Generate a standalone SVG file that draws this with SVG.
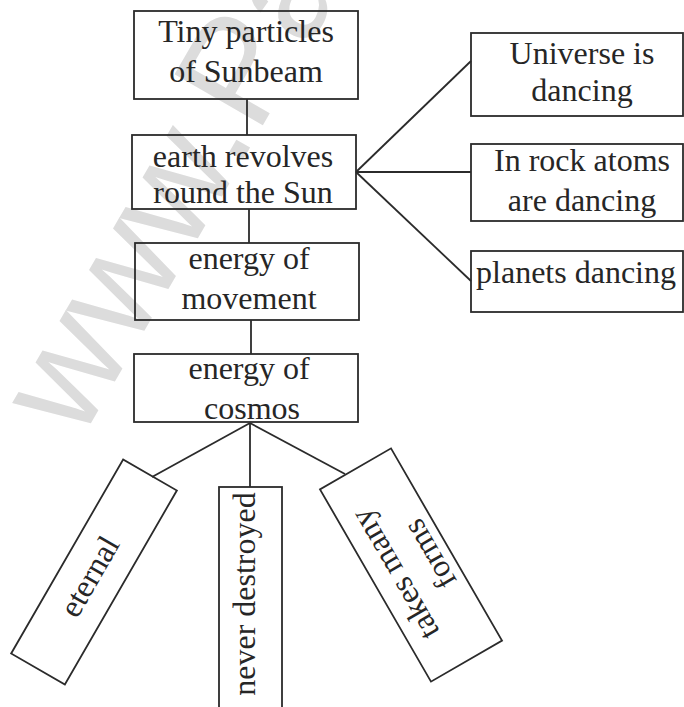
<svg xmlns="http://www.w3.org/2000/svg" width="684" height="707" viewBox="0 0 684 707">
<style>
.box{fill:none;stroke:#2b2b2b;stroke-width:1.8}
.ln{stroke:#2b2b2b;stroke-width:1.8;fill:none}
.t{font-family:"Liberation Serif","Times New Roman",serif;font-size:32px;fill:#262626;text-anchor:middle}
.wm{font-family:"Liberation Sans",Arial,sans-serif;font-size:148px;fill:#dcdcdc}
</style>
<rect width="684" height="707" fill="#ffffff"/>
<text class="wm" transform="translate(80,442) rotate(-60)">www.Padasalai</text>
<g id="connectors">
<line class="ln" x1="247" y1="99" x2="247" y2="135"/>
<line class="ln" x1="249" y1="209" x2="249" y2="243"/>
<line class="ln" x1="251" y1="320" x2="251" y2="354"/>
<line class="ln" x1="356" y1="172" x2="471" y2="61"/>
<line class="ln" x1="356" y1="172" x2="471" y2="172"/>
<line class="ln" x1="356" y1="172" x2="471" y2="281"/>
<line class="ln" x1="250" y1="423" x2="152" y2="477"/>
<line class="ln" x1="250" y1="423" x2="250" y2="487"/>
<line class="ln" x1="250" y1="423" x2="345" y2="474"/>
</g>
<g id="n1"><rect class="box" x="134" y="11" width="224" height="88"/><text class="t" x="246" y="42">Tiny particles</text><text class="t" x="246" y="82">of Sunbeam</text></g>
<g id="n2"><rect class="box" x="132" y="135" width="224" height="74"/><text class="t" x="243" y="167">earth revolves</text><text class="t" x="243" y="203">round the Sun</text></g>
<g id="n3"><rect class="box" x="135" y="243" width="224" height="77"/><text class="t" x="249" y="269">energy of</text><text class="t" x="249" y="309">movement</text></g>
<g id="n4"><rect class="box" x="134" y="354" width="224" height="68"/><text class="t" x="249" y="379">energy of</text><text class="t" x="252" y="419">cosmos</text></g>
<g id="n5"><rect class="box" x="471" y="33" width="212" height="83"/><text class="t" x="582" y="64">Universe is</text><text class="t" x="582" y="101">dancing</text></g>
<g id="n6"><rect class="box" x="471" y="144" width="212" height="77"/><text class="t" x="582" y="171">In rock atoms</text><text class="t" x="582" y="211">are dancing</text></g>
<g id="n7"><rect class="box" x="471" y="251" width="212" height="61"/><text class="t" x="576" y="283">planets dancing</text></g>
<g id="n8" transform="translate(94,572) rotate(-60)"><rect class="box" x="-112" y="-31" width="224" height="62"/><text class="t" x="-6" y="9">eternal</text></g>
<g id="n9"><rect class="box" x="219" y="487" width="63" height="240"/><text class="t" transform="translate(255,594) rotate(-90)">never destroyed</text></g>
<g id="n10" transform="translate(411,565) rotate(-120)"><rect class="box" x="-111" y="-41" width="222" height="82"/><text class="t" x="0" y="-8">takes many</text><text class="t" x="0" y="32">forms</text></g>
</svg>
